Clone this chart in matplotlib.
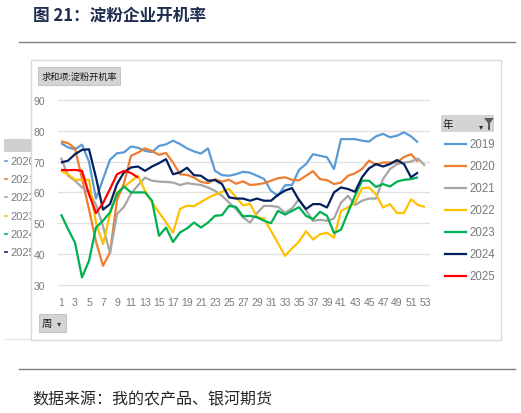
import matplotlib.pyplot as plt
from matplotlib.patches import Rectangle, Polygon
from matplotlib.lines import Line2D

# 淀粉企业开机率 (%), 按周
weeks = list(range(1, 54))
years = ["2019", "2020", "2021", "2022", "2023", "2024", "2025"]
colors = ["#5B9BD5", "#ED7D31", "#A5A5A5", "#FFC000", "#00B050", "#002060", "#FF0000"]

y2019 = [76.0, 74.6, 74.0, 75.5, 70.0, 58.0, 64.3, 70.6, 72.7, 73.0, 74.9, 74.5, 73.5,
         73.1, 75.1, 75.6, 76.8, 75.7, 74.3, 73.3, 72.6, 74.3, 67.0, 65.6, 65.4, 65.9,
         66.7, 66.4, 65.4, 64.4, 60.5, 58.9, 62.3, 62.4, 67.3, 69.2, 72.4, 71.9, 71.4,
         67.6, 77.3, 77.3, 77.3, 76.8, 76.5, 78.2, 79.0, 77.9, 78.4, 79.5, 78.2, 76.2]
y2020 = [76.6, 76.0, 74.3, 64.5, 54.5, 44.0, 36.2, 40.5, 57.5, 63.0, 71.9, 72.9, 74.3,
         73.4, 72.2, 72.8, 69.7, 65.9, 65.7, 64.8, 63.4, 63.0, 64.3, 63.5, 64.1, 62.8,
         63.6, 62.4, 62.6, 63.0, 63.8, 64.6, 64.9, 64.1, 63.9, 65.4, 66.9, 64.3, 64.0,
         62.7, 63.2, 65.4, 66.2, 67.6, 70.3, 69.0, 69.7, 69.7, 69.8, 71.5, 72.4, 70.0]
y2021 = [71.3, 65.4, 63.8, 61.6, 60.0, 56.0, 49.0, 40.3, 53.0, 55.3, 59.6, 62.3, 64.8,
         63.8, 63.5, 63.4, 63.2, 62.4, 63.0, 62.7, 62.4, 61.6, 60.5, 58.9, 56.7, 54.6,
         51.9, 50.2, 53.3, 55.6, 55.6, 55.3, 53.4, 54.8, 57.8, 54.2, 50.8, 51.1, 50.8,
         51.5, 56.7, 58.9, 55.9, 57.3, 58.0, 58.0, 64.3, 67.6, 69.2, 69.7, 70.0, 71.0, 68.7]
y2022 = [67.0, 65.9, 64.1, 64.1, 64.1, 50.0, 43.2, 53.0, 60.0, 61.8, 63.6, 65.4, 60.5,
         56.8, 53.5, 50.3, 46.9, 54.6, 55.7, 55.5, 56.9, 58.2, 59.3, 60.2, 61.1, 58.4,
         55.8, 56.3, 52.0, 51.5, 47.5, 43.5, 39.4, 41.8, 44.0, 47.4, 44.7, 46.4, 46.9,
         45.3, 54.0, 55.1, 56.7, 61.3, 61.6, 59.4, 55.1, 56.2, 53.3, 53.3, 57.8, 55.9, 55.3]
y2023 = [52.9, 48.1, 43.7, 32.4, 37.8, 48.6, 50.8, 53.5, 59.5, 61.9, 60.0, 60.0, 60.0,
         57.3, 45.9, 48.6, 43.9, 47.0, 48.3, 50.2, 48.6, 50.2, 52.4, 52.6, 55.6, 55.3,
         52.2, 52.4, 51.9, 50.8, 50.0, 54.0, 52.8, 54.0, 55.2, 52.4, 51.3, 53.7, 52.4,
         46.8, 47.9, 53.5, 58.9, 63.8, 63.8, 61.8, 62.7, 61.9, 63.5, 64.1, 64.3, 64.9]
y2024 = [69.7, 70.3, 72.4, 73.8, 74.0, 64.8, 54.4, 56.2, 62.7, 66.5, 68.1, 68.4, 67.0,
         68.4, 69.5, 70.8, 65.9, 66.5, 68.0, 65.6, 65.4, 63.8, 64.0, 62.7, 58.4, 58.0,
         58.0, 57.3, 58.0, 57.3, 57.3, 59.2, 60.6, 61.4, 57.5, 54.6, 56.2, 56.2, 55.1,
         60.0, 61.6, 61.1, 60.2, 64.9, 67.8, 69.2, 68.4, 69.2, 70.5, 69.2, 64.9, 66.5]
y2025 = [67.3, 67.2, 67.3, 67.0, 59.4, 53.3, 56.5, 61.1, 65.9, 67.0, 66.3, 64.8]

series = [y2019, y2020, y2021, y2022, y2023, y2024, y2025]
y_ticks = [30, 40, 50, 60, 70, 80, 90]
x_ticks = list(range(1, 54, 2))

W, H = 521, 414
CJK = ["Noto Sans CJK SC", "DejaVu Sans"]
NUM = ["Liberation Sans Narrow", "Liberation Sans", "DejaVu Sans"]
GREY_TXT = "#7A7A7A"


def fx(x):
    return x / W


def fy(y):
    return 1 - y / H


fig = plt.figure(figsize=(W / 100, H / 100), dpi=100)
fig.patch.set_facecolor("white")

# 标题与分隔线
fig.text(fx(33), fy(16), "图 21：淀粉企业开机率", family=CJK, fontsize=12,
         fontweight="bold", color="#1F2D4F", va="center", ha="left")
fig.add_artist(Line2D([fx(19), fx(515)], [fy(43), fy(43)], color="#7F7F7F", lw=1))
fig.add_artist(Line2D([fx(19), fx(515)], [fy(370), fy(370)], color="#7F7F7F", lw=1))
fig.text(fx(32), fy(400), "数据来源：我的农产品、银河期货", family=CJK, fontsize=11.5,
         color="#262626", va="center", ha="left")

# 左侧被遮住的旧图例残影
fig.add_artist(Rectangle((fx(4), fy(153)), fx(30), 13 / H, transform=fig.transFigure,
                         facecolor="#CFCFCF", edgecolor="none", zorder=0.5))
fig.add_artist(Line2D([fx(5), fx(31)], [fy(340), fy(340)], color="#E6E6E6", lw=1, zorder=0.5))
old_years = ["2020", "2021", "2022", "2023", "2024", "2025"]
for i, (yr, c) in enumerate(zip(old_years, colors[:6])):
    yy = 162 + i * 18.2
    fig.add_artist(Line2D([fx(4.5), fx(7)], [fy(yy), fy(yy)], color=c, lw=1.2, zorder=0.5))
    fig.text(fx(10), fy(yy), yr, family=NUM, fontsize=8, color=GREY_TXT,
             va="center", ha="left", zorder=0.5)

# 图表区外框
fig.add_artist(Rectangle((fx(31), fy(341)), (501 - 31) / W, (341 - 61) / H,
                         transform=fig.transFigure, facecolor="white",
                         edgecolor="#D9D9D9", lw=1, zorder=1))

# 透视图按钮
fig.add_artist(Rectangle((fx(38), fy(86)), 82 / W, 18 / H, transform=fig.transFigure,
                         facecolor="#D4D4D4", edgecolor="#BDBDBD", lw=0.6, zorder=3))
fig.text(fx(79), fy(77), "求和项:淀粉开机率", family=CJK, fontsize=6.6, color="#1A1A1A",
         va="center", ha="center", zorder=4)
fig.add_artist(Rectangle((fx(39), fy(333)), 27 / W, 18 / H, transform=fig.transFigure,
                         facecolor="#D4D4D4", edgecolor="#BDBDBD", lw=0.6, zorder=3))
fig.text(fx(47), fy(324), "周", family=CJK, fontsize=7.5, color="#1A1A1A",
         va="center", ha="center", zorder=4)
fig.text(fx(59), fy(324), "▾", family="DejaVu Sans", fontsize=6, color="#404040",
         va="center", ha="center", zorder=4)

# 图例
fig.add_artist(Rectangle((fx(441), fy(133)), 53 / W, 17 / H, transform=fig.transFigure,
                         facecolor="#D4D4D4", edgecolor="none", zorder=3))
fig.text(fx(448), fy(125), "年", family=CJK, fontsize=7.5, color="#1A1A1A",
         va="center", ha="center", zorder=4)
fig.text(fx(481), fy(127), "▾", family="DejaVu Sans", fontsize=6, color="#303030",
         va="center", ha="center", zorder=4)
fig.add_artist(Polygon([(fx(484), fy(119)), (fx(494), fy(119)), (fx(490), fy(124)),
                        (fx(490), fy(131)), (fx(488), fy(131)), (fx(488), fy(124))],
                       closed=True, transform=fig.transFigure, facecolor="#5A5A5A",
                       edgecolor="none", zorder=4))
for i, (yr, c) in enumerate(zip(years, colors)):
    yy = 145 + i * 22
    fig.add_artist(Line2D([fx(445), fx(466)], [fy(yy), fy(yy)], color=c, lw=1.6, zorder=4))
    fig.text(fx(469), fy(yy), yr, family=NUM, fontsize=8.3, color=GREY_TXT,
             va="center", ha="left", zorder=4)

# 绘图区
ax = fig.add_axes([fx(57.5), fy(285.8), 371 / W, (285.8 - 101) / H])
ax.set_zorder(2)
ax.patch.set_alpha(0)
for yr, c, vals in zip(years, colors, series):
    ax.plot(weeks[:len(vals)], vals, color=c, lw=1.6, solid_joinstyle="round",
            solid_capstyle="butt", label=yr)

ax.set_xlim(0.5, 53.5)
ax.set_ylim(30, 90)
ax.set_xticks(x_ticks)
ax.set_yticks(y_ticks)
ax.tick_params(length=0, labelsize=7.5, labelcolor=GREY_TXT)
ax.tick_params(axis="x", pad=9)
ax.tick_params(axis="y", pad=9)
for lab in ax.get_xticklabels() + ax.get_yticklabels():
    lab.set_family(NUM)
ax.yaxis.grid(True, color="#E1E1E1", lw=1)
for gl in ax.get_ygridlines():
    gl.set_clip_on(False)
ax.set_axisbelow(True)
for s in ax.spines.values():
    s.set_visible(False)

fig.savefig("out.png", dpi=100)
